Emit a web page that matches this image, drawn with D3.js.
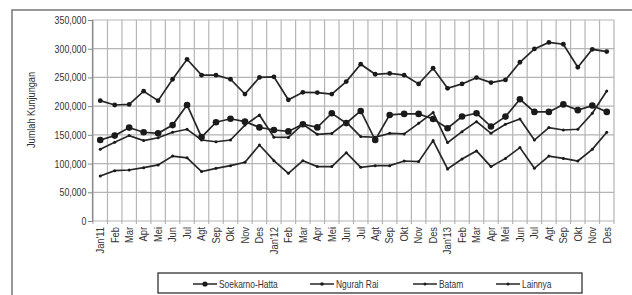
<!DOCTYPE html>
<html>
<head>
<meta charset="utf-8">
<script src="https://cdn.jsdelivr.net/npm/d3@7"></script>
<style>
  body { margin: 0; background: #fff; }
  text { font-family: "Liberation Sans", Arial, sans-serif; fill: #333; }
</style>
</head>
<body>
<div id="chart"></div>
<script>
// month labels
var months = ["Jan'11", "Feb", "Mar", "Apr", "Mei", "Jun", "Jul", "Agt", "Sep", "Okt", "Nov", "Des",
    "Jan'12", "Feb", "Mar", "Apr", "Mei", "Jun", "Jul", "Agt", "Sep", "Okt", "Nov", "Des",
    "Jan'13", "Feb", "Mar", "Apr", "Mei", "Jun", "Jul", "Agt", "Sep", "Okt", "Nov", "Des"];

var yTicks = [0, 50000, 100000, 150000, 200000, 250000, 300000, 350000];

// values in thousands
var soekarnoHatta = [209.6, 202, 203, 226, 209.6, 246.8, 281.6, 254, 254, 246.8, 221, 250,
    251, 211, 224, 223.6, 221, 242.7, 273, 255.5, 257, 254, 238.7, 266,
    231, 238.7, 249.7, 241, 245.6, 276.4, 299.6, 311, 307.8, 267.7, 299, 295];
var ngurahRai = [141, 148.7, 162.6, 154.5, 152.7, 167, 202, 146, 172, 178, 173, 163,
    158.5, 156, 168.5, 163, 187.6, 170.5, 191.6, 141, 184.7, 186.5, 186.5, 177.7,
    161.5, 182, 187.6, 164.5, 181.8, 212, 190, 190, 203, 193, 201, 190];
var batam = [124.9, 137, 148.7, 140, 145, 154.5, 159.7, 141, 138, 141, 167, 184.7,
    146, 145.5, 168.5, 151, 152.5, 172, 147, 145.8, 152.7, 151.6, 170, 189,
    136.5, 155.6, 173, 152.7, 168.4, 177.7, 141, 162.6, 158.5, 159.7, 187.6, 226.5];
var lainnya = [78.4, 87.7, 88.8, 92.9, 97.6, 113, 110, 86, 91.7, 96.4, 102.2, 132.4,
    105, 83, 105, 94.7, 94.7, 119, 93.5, 96.4, 96.4, 104.5, 103.4, 140,
    90.6, 108, 122, 94.7, 109, 127.8, 91.7, 113, 109, 104.5, 124.8, 154.5];

var seriesNames = ["Soekarno-Hatta", "Ngurah Rai", "Batam", "Lainnya"];

var series = [
    {name: seriesNames[0], values: soekarnoHatta, r: 2.4, lr: 2.6},
    {name: seriesNames[1], values: ngurahRai, r: 3.3, lr: 1.8},
    {name: seriesNames[2], values: batam, r: 1.5, lr: 1.5},
    {name: seriesNames[3], values: lainnya, r: 1.5, lr: 1.5}
];

// the scanned chart uses a narrow face, squeeze text horizontally
var squeeze = 0.8;

var svg = d3.select("#chart")
    .append("svg")
    .attr("width", 632)
    .attr("height", 295);

var idx = d3.range(months.length);

var x = d3.scaleBand()
    .domain(idx)
    .range([93, 614]);

var y = d3.scaleLinear()
    .domain([0, 350000])
    .range([221, 20]);

// outer frame
svg.append("path")
    .attr("d", "M12,300V10H640")
    .attr("fill", "none")
    .attr("stroke", "#777")
    .attr("stroke-width", 1.5);

// grid
var grid = svg.append("g");
grid.selectAll(".hgrid")
    .data(yTicks)
    .enter()
    .append("line")
    .attr("x1", 92)
    .attr("x2", 614)
    .attr("y1", function (d) { return y(d); })
    .attr("y2", function (d) { return y(d); })
    .attr("stroke", "#b5b5b5")
    .attr("stroke-width", 1.2);

grid.selectAll(".vgrid")
    .data(idx.concat([months.length]))
    .enter()
    .append("line")
    .attr("x1", function (d) { return d < months.length ? x(d) : x.range()[1]; })
    .attr("x2", function (d) { return d < months.length ? x(d) : x.range()[1]; })
    .attr("y1", 20)
    .attr("y2", 224)
    .attr("stroke", "#b5b5b5")
    .attr("stroke-width", 1.2);

// y axis
var yAxis = svg.append("g")
    .attr("transform", "translate(92,0)")
    .call(d3.axisLeft(y).tickValues(yTicks).tickSize(4).tickPadding(3)
        .tickFormat(d3.format(",")));
yAxis.select(".domain").attr("stroke", "#888").attr("stroke-width", 1.2);
yAxis.selectAll(".tick line").attr("stroke", "#888");
yAxis.selectAll("text")
    .attr("font-size", "11px")
    .attr("fill", "#333")
    .attr("transform", "scale(" + squeeze + ",1)");

// x labels
svg.append("g")
    .selectAll("text")
    .data(idx)
    .enter()
    .append("text")
    .attr("transform", function (d) {
        return "translate(" + (x(d) + x.bandwidth() / 2 + 3.8) + ",227) rotate(-90) scale(" + (squeeze + 0.05) + ",1)";
    })
    .attr("text-anchor", "end")
    .attr("font-size", "11px")
    .text(function (d) { return months[d]; });

svg.append("text")
    .attr("transform", "translate(35,110) rotate(-90) scale(" + squeeze + ",1)")
    .attr("text-anchor", "middle")
    .attr("font-size", "11.5px")
    .text("Jumlah Kunjungan");

// lines
var line = d3.line()
    .x(function (d, i) { return x(i) + x.bandwidth() / 2; })
    .y(function (d) { return y(d * 1000); });

var lines = svg.selectAll(".series")
    .data(series)
    .enter()
    .append("g")
    .attr("class", "series");

lines.append("path")
    .attr("d", function (d) { return line(d.values); })
    .attr("fill", "none")
    .attr("stroke", "#262626")
    .attr("stroke-width", 1.7);

lines.each(function (s) {
    d3.select(this).selectAll("circle")
        .data(s.values)
        .enter()
        .append("circle")
        .attr("cx", function (d, i) { return x(i) + x.bandwidth() / 2; })
        .attr("cy", function (d) { return y(d * 1000); })
        .attr("r", s.r)
        .attr("fill", "#1a1a1a");
});

// legend
var legend = svg.append("g");
legend.append("rect")
    .attr("x", 158)
    .attr("y", 273)
    .attr("width", 424)
    .attr("height", 20)
    .attr("fill", "#fff")
    .attr("stroke", "#333")
    .attr("stroke-width", 1.3);

var legendX = [193, 310, 413, 496];
var legendItem = legend.selectAll(".legendItem")
    .data(series)
    .enter()
    .append("g")
    .attr("transform", function (d, i) { return "translate(" + legendX[i] + ",284)"; });

legendItem.append("line")
    .attr("x1", 0)
    .attr("x2", 24)
    .attr("stroke", "#262626")
    .attr("stroke-width", 1.5);
legendItem.append("circle")
    .attr("cx", 12)
    .attr("r", function (d) { return d.lr; })
    .attr("fill", "#1a1a1a");
legendItem.append("text")
    .attr("transform", "translate(26,3.5) scale(" + squeeze + ",1)")
    .attr("font-size", "10.5px")
    .text(function (d) { return d.name; });
</script>
</body>
</html>
